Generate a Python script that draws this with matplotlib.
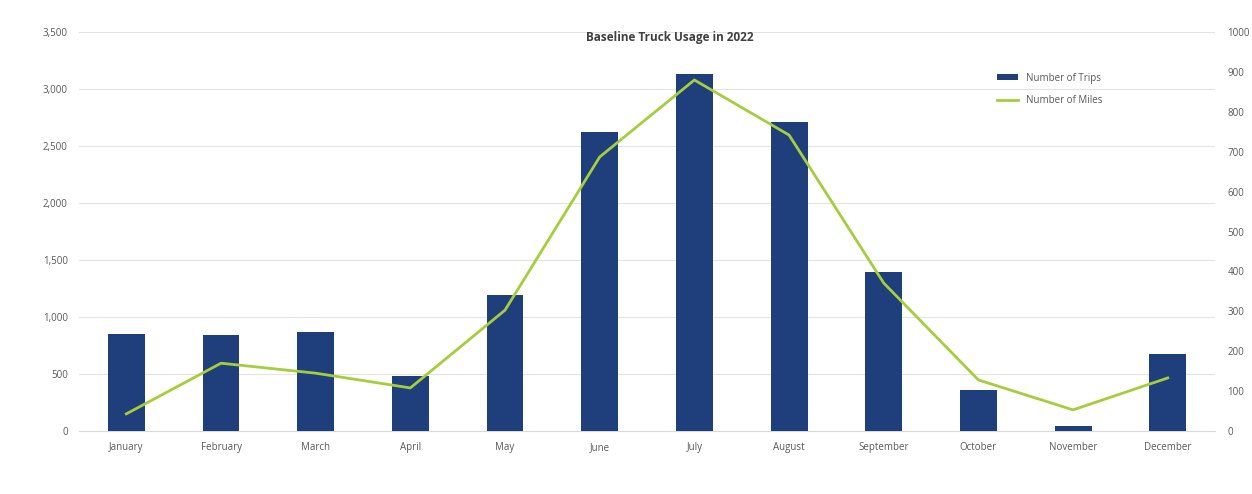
import matplotlib
matplotlib.use("Agg")
import matplotlib.pyplot as plt
import matplotlib.ticker as ticker
import numpy as np

months = ["January", "February", "March", "April", "May", "June",
          "July", "August", "September", "October", "November", "December"]
trips = [850, 840, 865, 480, 1190, 2620, 3130, 2710, 1395, 360, 45, 675]
miles = [43, 170, 145, 108, 303, 687, 880, 742, 371, 128, 53, 133]

bar_color = "#1f3e7c"
line_color = "#a6cd3c"
text_color = "#595959"

plt.rcParams['font.family'] = ['Open Sans', 'DejaVu Sans']

fig = plt.figure(figsize=(12.52, 4.94), dpi=100)
ax = fig.add_axes([0.0631, 0.1275, 0.9074, 0.8075])
ax2 = ax.twinx()

x = np.arange(len(months))
ax.bar(x, trips, width=0.39, color=bar_color, label="Number of Trips", zorder=3)
ax2.plot(x, miles, color=line_color, linewidth=2, label="Number of Miles", zorder=4)

ax.set_xlim(-0.5, len(months) - 0.5)
ax.set_ylim(0, 3500)
ax2.set_ylim(0, 1000)
ax.yaxis.set_major_locator(ticker.MultipleLocator(500))
ax2.yaxis.set_major_locator(ticker.MultipleLocator(100))
ax.yaxis.set_major_formatter(ticker.FuncFormatter(lambda v, p: f"{int(v):,}"))

ax.set_xticks(x)
ax.set_xticklabels(months)
ax.grid(axis="y", color="#e3e3e3", linewidth=0.8, zorder=0)
ax.set_axisbelow(True)

for a in (ax, ax2):
    for s in a.spines.values():
        s.set_visible(False)
    a.tick_params(length=0, labelsize=7, labelcolor=text_color)
ax.spines["bottom"].set_visible(True)
ax.spines["bottom"].set_color("#d9d9d9")
ax.tick_params(axis="y", pad=8)
ax.tick_params(axis="x", pad=8)
ax2.tick_params(axis="y", pad=9)

ax.set_title("Baseline Truck Usage in 2022", fontsize=8.5, color="#404040",
             fontweight="bold", pad=-2, x=0.52, y=0.985)

h1, l1 = ax.get_legend_handles_labels()
h2, l2 = ax2.get_legend_handles_labels()
ax2.legend(h1 + h2, l1 + l2, loc="upper left", bbox_to_anchor=(0.8, 0.92),
           frameon=False, fontsize=7, labelcolor=text_color,
           handlelength=2.2, handleheight=0.6, labelspacing=1.2)

fig.savefig("out.png", dpi=100)
